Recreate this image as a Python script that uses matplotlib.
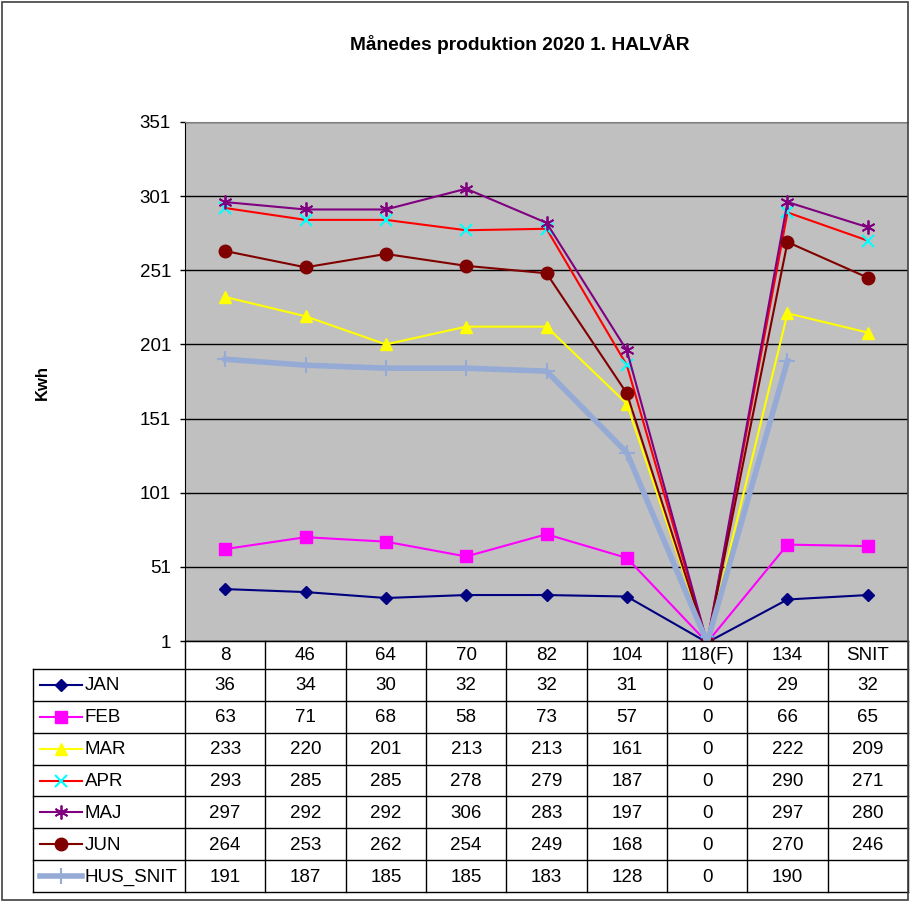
import numpy as np
import matplotlib
matplotlib.use('Agg')
import matplotlib.pyplot as plt
from matplotlib.lines import Line2D
from matplotlib.patches import Rectangle

plt.rcParams['font.family'] = ['Liberation Sans', 'DejaVu Sans']

# Data
categories = ['8', '46', '64', '70', '82', '104', '118(F)', '134', 'SNIT']
jan = [36, 34, 30, 32, 32, 31, 0, 29, 32]
feb = [63, 71, 68, 58, 73, 57, 0, 66, 65]
mar = [233, 220, 201, 213, 213, 161, 0, 222, 209]
apr = [293, 285, 285, 278, 279, 187, 0, 290, 271]
maj = [297, 292, 292, 306, 283, 197, 0, 297, 280]
jun = [264, 253, 262, 254, 249, 168, 0, 270, 246]
hus_snit = [191, 187, 185, 185, 183, 128, 0, 190, None]
y_ticks = [1, 51, 101, 151, 201, 251, 301, 351]

series_names = ['JAN', 'FEB', 'MAR', 'APR', 'MAJ', 'JUN', 'HUS_SNIT']
series_values = [jan, feb, mar, apr, maj, jun, hus_snit]

# styles: line colour, marker, marker face, marker edge, marker size, line width
styles = [
    dict(color='#000080', marker='D', mfc='#000080', mec='#000080', ms=6, lw=1.5),
    dict(color='#FF00FF', marker='s', mfc='#FF00FF', mec='#FF00FF', ms=8, lw=1.5),
    dict(color='#FFFF00', marker='^', mfc='#FFFF00', mec='#FFFF00', ms=9, lw=1.5),
    dict(color='#FF0000', marker='x', mfc='#00FFFF', mec='#00FFFF', ms=8, lw=1.5, mew=1.5),
    dict(color='#800080', marker=(6, 2, 0), mfc='#800080', mec='#800080', ms=10, lw=1.5, mew=1.3),
    dict(color='#800000', marker='o', mfc='#800000', mec='#800000', ms=9, lw=1.5),
    dict(color='#95AAD4', marker='+', mfc='#95AAD4', mec='#95AAD4', ms=12, lw=4, mew=1.5),
]

W, H = 910, 902
fig = plt.figure(figsize=(W / 100, H / 100), dpi=100)

# outer border of the chart area
fig.patches.append(Rectangle((2 / W, 2 / H), (W - 4) / W, (H - 4) / H, transform=fig.transFigure,
                             fill=False, edgecolor='#404040', lw=1.2))

left, right, top, bottom = 185, 908, 122, 641
ax = fig.add_axes([left / W, 1 - bottom / H, (right - left) / W, (bottom - top) / H])
ax.set_facecolor('#C0C0C0')

x = np.arange(len(categories))
for name, vals, st in zip(series_names, series_values, styles):
    y = np.array([np.nan if v is None else v for v in vals], dtype=float)
    ax.plot(x, y, color=st['color'], lw=st['lw'], marker=st['marker'],
            markerfacecolor=st['mfc'], markeredgecolor=st['mec'],
            markersize=st['ms'], markeredgewidth=st.get('mew', 1), label=name)

ax.set_xlim(-0.5, len(categories) - 0.5)
ax.set_ylim(1, 351)
ax.set_yticks(y_ticks)
ax.set_yticklabels([str(t) for t in y_ticks], fontsize=13.5)
ax.set_xticks([])
ax.yaxis.grid(True, color='black', lw=1)
ax.set_axisbelow(True)
ax.spines['right'].set_visible(False)
ax.spines['top'].set_color('#808080')
ax.spines['left'].set_color('black')
ax.spines['bottom'].set_color('black')
ax.tick_params(axis='y', length=3.6, width=1, pad=6.5)

fig.text(520 / W, 1 - 44 / H, 'Månedes produktion 2020 1. HALVÅR', ha='center', va='center',
         fontsize=13.8, fontweight='bold')
fig.text(42 / W, 1 - 383 / H, 'Kwh', ha='center', va='center', rotation=90,
         fontsize=12, fontweight='bold')

# data table
t_left, t_bottom = 33, 892
tax = fig.add_axes([t_left / W, 1 - t_bottom / H, (right - t_left) / W, (t_bottom - bottom) / H])
unit = (right - left) / len(categories)
legend_w = (left - t_left) / unit
tax.set_xlim(-0.5 - legend_w, len(categories) - 0.5)
tax.set_ylim(t_bottom - bottom, 0)
tax.axis('off')

header_h = 28
row_h = (t_bottom - bottom - header_h) / len(series_names)
lc = 'black'
lw = 1
x0 = -0.5 - legend_w
x_end = len(categories) - 0.5
# header row (only category columns)
tax.plot([-0.5, x_end], [0, 0], color=lc, lw=lw, clip_on=False)
for i, c in enumerate(categories):
    tax.text(i, header_h / 2 + 1, c, ha='center', va='center', fontsize=13.5)
# horizontal lines for series rows
for r in range(len(series_names) + 1):
    yy = header_h + r * row_h
    tax.plot([x0, x_end], [yy, yy], color=lc, lw=lw, clip_on=False)
# vertical lines
tax.plot([x0, x0], [header_h, t_bottom - bottom], color=lc, lw=lw, clip_on=False)
for i in range(len(categories) + 1):
    xx = -0.5 + i
    tax.plot([xx, xx], [0, t_bottom - bottom], color=lc, lw=lw, clip_on=False)

px = 1 / unit
for r, (name, vals, st) in enumerate(zip(series_names, series_values, styles)):
    yc = header_h + (r + 0.5) * row_h
    lx0 = x0 + 7 * px
    lx1 = x0 + 49 * px
    tax.add_line(Line2D([lx0, lx1], [yc, yc], color=st['color'], lw=st['lw'], clip_on=False))
    tax.add_line(Line2D([(lx0 + lx1) / 2], [yc], marker=st['marker'], markerfacecolor=st['mfc'],
                        markeredgecolor=st['mec'], markersize=st['ms'],
                        markeredgewidth=st.get('mew', 1), clip_on=False, linestyle='none'))
    tax.text(x0 + 52 * px, yc + 1, name, ha='left', va='center', fontsize=13.5)
    for i, v in enumerate(vals):
        if v is not None:
            tax.text(i, yc + 1, str(v), ha='center', va='center', fontsize=13.5)

fig.savefig('out.png', dpi=100)
